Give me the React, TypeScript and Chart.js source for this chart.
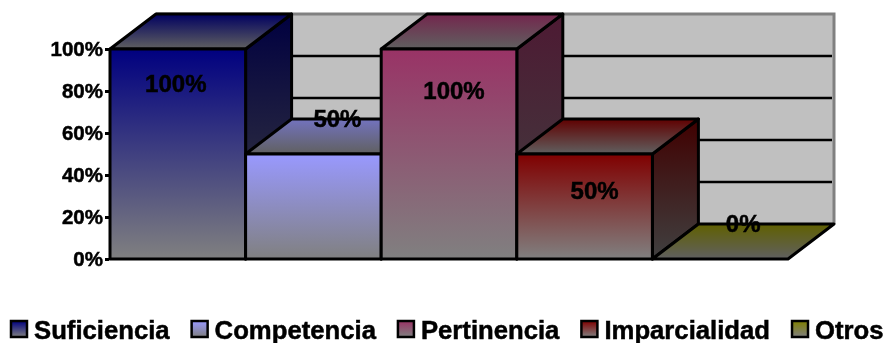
import React, { useEffect, useRef } from "react";
import { Chart, registerables } from "chart.js";

Chart.register(...registerables);

// Chart content
const seriesNames = ["Suficiencia", "Competencia", "Pertinencia", "Imparcialidad", "Otros"];
const seriesValues = [100, 50, 100, 50, 0];
const categories = [""];
const tickStep = 20;
const axisMax = 100;

// Excel-style base colours for the series, as RGB triples
const seriesColors: number[][] = [
  [0, 0, 128],
  [153, 153, 255],
  [153, 51, 102],
  [128, 0, 0],
  [128, 128, 0],
];

// Where each percentage sits relative to the top-centre of its column
const labelOffsetX = [-2, 24, 5, 10, 23];
const labelOffsetY = [36, -34, 43, 38, -34];

const FONT = '"Liberation Sans", Arial, sans-serif';
const DEPTH_X = 46;
const DEPTH_Y = 35;
const EDGE = 3;
const TEXT_WEIGHT = 0.5;
const GRAY = [128, 128, 128];

const rgb = (c: number[], f = 1) =>
  `rgb(${Math.round(c[0] * f)},${Math.round(c[1] * f)},${Math.round(c[2] * f)})`;

function fade(ctx: CanvasRenderingContext2D, y0: number, y1: number, a: string, b: string) {
  const g = ctx.createLinearGradient(0, y0, 0, y1);
  g.addColorStop(0, a);
  g.addColorStop(1, b);
  return g;
}

function polygon(ctx: CanvasRenderingContext2D, pts: number[][], fill: CanvasGradient | string) {
  ctx.beginPath();
  pts.forEach(([x, y], i) => (i ? ctx.lineTo(x, y) : ctx.moveTo(x, y)));
  ctx.closePath();
  ctx.fillStyle = fill;
  ctx.fill();
  ctx.lineWidth = EDGE;
  ctx.lineJoin = "round";
  ctx.strokeStyle = "#000";
  ctx.stroke();
}

function heavyText(ctx: CanvasRenderingContext2D, text: string, x: number, y: number) {
  ctx.fillStyle = "#000";
  ctx.strokeStyle = "#000";
  ctx.lineWidth = TEXT_WEIGHT;
  ctx.fillText(text, x, y);
  ctx.strokeText(text, x, y);
}

// Paints the back wall and extrudes every column into a box, left to right.
const boxes3d = {
  id: "boxes3d",
  beforeDatasetsDraw(chart: any) {
    const { ctx, chartArea: area, scales } = chart;
    const y = scales.y;
    const floor = y.getPixelForValue(0);

    ctx.save();
    const wallL = area.left + DEPTH_X;
    const wallR = area.right + DEPTH_X;
    const wallT = area.top - DEPTH_Y;
    const wallB = floor - DEPTH_Y;
    ctx.fillStyle = "#c0c0c0";
    ctx.fillRect(wallL, wallT, wallR - wallL, wallB - wallT);

    ctx.strokeStyle = "#808080";
    ctx.lineWidth = EDGE;
    ctx.beginPath();
    ctx.moveTo(wallL, wallT);
    ctx.lineTo(wallR, wallT);
    ctx.lineTo(wallR, wallB);
    ctx.stroke();

    ctx.strokeStyle = "#000";
    ctx.lineWidth = 2.5;
    y.ticks.forEach((t: any) => {
      if (t.value <= 0 || t.value >= axisMax) return;
      const py = y.getPixelForValue(t.value) - DEPTH_Y;
      ctx.beginPath();
      ctx.moveTo(wallL, py);
      ctx.lineTo(wallR - 2, py);
      ctx.stroke();
    });

    seriesValues.forEach((_, i) => {
      const bar = chart.getDatasetMeta(i).data[0];
      const left = bar.x - bar.width / 2;
      const right = bar.x + bar.width / 2;
      const top = bar.y;
      const c = seriesColors[i];

      if (top < floor) {
        polygon(
          ctx,
          [
            [right, top],
            [right + DEPTH_X, top - DEPTH_Y],
            [right + DEPTH_X, floor - DEPTH_Y],
            [right, floor],
          ],
          fade(ctx, top - DEPTH_Y, floor, rgb(c, 0.5), rgb(GRAY, 0.5)),
        );
      }
      polygon(
        ctx,
        [
          [left, top],
          [left + DEPTH_X, top - DEPTH_Y],
          [right + DEPTH_X, top - DEPTH_Y],
          [right, top],
        ],
        fade(ctx, top - DEPTH_Y, top, rgb(c, 0.75), rgb(GRAY, 0.75)),
      );
      if (top < floor) {
        bar.draw(ctx);
        ctx.lineWidth = EDGE;
        ctx.strokeStyle = "#000";
        ctx.strokeRect(left, top, right - left, floor - top);
      }
    });
    ctx.restore();
    return false;
  },
  afterDraw(chart: any) {
    const { ctx, height } = chart;
    ctx.save();

    // Percentages on the columns
    ctx.font = `bold 24px ${FONT}`;
    ctx.textAlign = "center";
    ctx.textBaseline = "middle";
    seriesValues.forEach((v, i) => {
      const bar = chart.getDatasetMeta(i).data[0];
      heavyText(ctx, `${v}%`, bar.x + labelOffsetX[i], bar.y + labelOffsetY[i]);
    });

    // Legend row with a gradient swatch in front of each name
    ctx.font = `bold 25.7px ${FONT}`;
    ctx.textAlign = "left";
    ctx.textBaseline = "alphabetic";
    let x = 11;
    const boxTop = height - 22;
    const boxSize = 16;
    seriesNames.forEach((name, i) => {
      ctx.fillStyle = fade(ctx, boxTop, boxTop + boxSize, rgb(seriesColors[i]), rgb(GRAY));
      ctx.fillRect(x, boxTop, boxSize, boxSize);
      ctx.lineWidth = 2.5;
      ctx.strokeStyle = "#000";
      ctx.strokeRect(x, boxTop, boxSize, boxSize);
      heavyText(ctx, name, x + 23, height - 4.5);
      x += 23 + ctx.measureText(name).width + 22;
    });
    ctx.restore();
  },
};

export default function App() {
  const ref = useRef<HTMLCanvasElement | null>(null);

  useEffect(() => {
    const chart = new Chart(ref.current as HTMLCanvasElement, {
      type: "bar",
      data: {
        labels: categories,
        datasets: seriesNames.map((name, i) => ({
          label: name,
          data: [seriesValues[i]],
          borderWidth: 0,
          barPercentage: 1,
          categoryPercentage: 1,
          backgroundColor: (c: any) => {
            const y = c.chart.scales.y;
            const y0 = y ? y.getPixelForValue(seriesValues[i]) : NaN;
            const y1 = y ? y.getPixelForValue(0) : NaN;
            if (!Number.isFinite(y0) || !Number.isFinite(y1)) return rgb(seriesColors[i]);
            return fade(c.chart.ctx, y0, y1, rgb(seriesColors[i]), rgb(GRAY));
          },
        })),
      },
      options: {
        animation: false,
        responsive: false,
        events: [],
        layout: { padding: { left: 0, right: 97, top: 49, bottom: 84 } },
        plugins: { legend: { display: false }, tooltip: { enabled: false } },
        scales: {
          x: { display: false },
          y: {
            min: 0,
            max: axisMax,
            afterFit: (s: any) => {
              s.width = 110;
            },
            border: { color: "#000", width: 3 },
            grid: {
              drawOnChartArea: false,
              drawTicks: true,
              tickLength: 5,
              tickColor: "#000",
              tickWidth: 3,
            },
            ticks: {
              stepSize: tickStep,
              padding: 2,
              labelOffset: 1,
              color: "#000",
              textStrokeColor: "#000",
              textStrokeWidth: TEXT_WEIGHT,
              font: { family: FONT, size: 20.5, weight: "bold" },
              callback: (v: any) => `${v}%`,
            },
          },
        },
      },
      plugins: [boxes3d],
    } as any);
    return () => chart.destroy();
  }, []);

  return (
    <div style={{ position: "absolute", left: 0, top: 0, background: "#fff" }}>
      <canvas ref={ref} width={885} height={343} style={{ display: "block" }} />
    </div>
  );
}
